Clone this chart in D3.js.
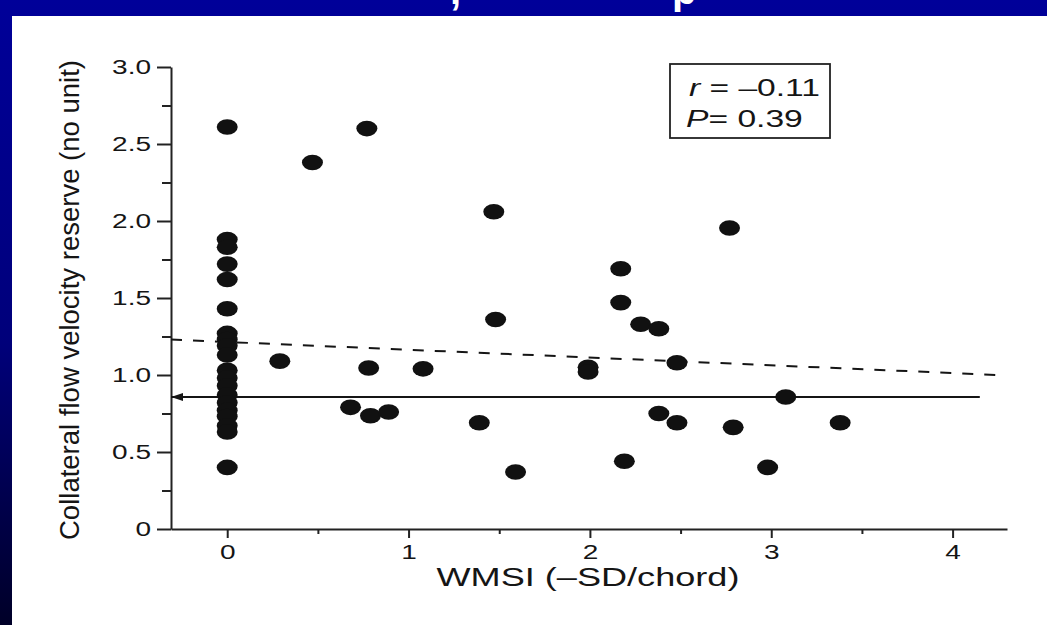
<!doctype html>
<html lang="en">
<head>
<meta charset="utf-8">
<title>CFVR vs WMSI</title>
<script src="https://cdn.jsdelivr.net/npm/d3@7"></script>
<style>
  html, body { margin: 0; padding: 0; overflow: hidden; background: #000099; }
  svg { display: block; }
  text { font-family: "Liberation Sans", Arial, sans-serif; fill: #151515; }
</style>
</head>
<body>
<div id="chart"></div>
<script>
  // axis ticks
  const xMajor = [0, 1, 2, 3, 4];
  const xMinor = [0.5, 1.5, 2.5, 3.5];
  const xLabels = ["0", "1", "2", "3", "4"];
  const yMajor = [0, 0.5, 1, 1.5, 2, 2.5, 3];
  const yMinor = [0.25, 0.75, 1.25, 1.75, 2.25, 2.75];
  const yLabels = ["0", "0.5", "1.0", "1.5", "2.0", "2.5", "3.0"];

  // patients: WMSI (x) and collateral flow velocity reserve (y)
  const wmsi = [
    0, 0, 0, 0, 0, 0, 0, 0, 0, 0, 0, 0, 0, 0, 0, 0, 0, 0, 0, 0,
    0.29, 0.47, 0.77, 0.78, 0.68, 0.79, 0.89, 1.08, 1.39, 1.47,
    1.48, 1.59, 1.99, 1.99, 2.17, 2.17, 2.19, 2.28, 2.38, 2.38,
    2.48, 2.48, 2.77, 2.79, 2.98, 3.08, 3.38
  ];
  const cfvr = [
    2.61, 1.88, 1.83, 1.72, 1.62, 1.43, 1.27, 1.23, 1.19, 1.13,
    1.03, 0.98, 0.93, 0.87, 0.82, 0.77, 0.73, 0.67, 0.63, 0.40,
    1.09, 2.38, 2.60, 1.045, 0.79, 0.735, 0.76, 1.04, 0.69, 2.06,
    1.36, 0.37, 1.05, 1.02, 1.69, 1.47, 0.44, 1.33, 1.30, 0.75,
    1.08, 0.69, 1.955, 0.66, 0.40, 0.857, 0.69
  ];

  // regression (dashed) and mean value (arrow)
  const fitX = [-0.31, 4.25];
  const fitY = [1.23, 1.0];
  const meanX = [4.15, -0.31];
  const meanY = [0.857, 0.857];
  const statLines = ["= \u20130.11", "= 0.39"];

  const W = 1047, H = 625;
  const stretch = 1.4; // glyphs in the scan are wide

  const svg = d3.select("#chart").append("svg")
    .attr("width", W).attr("height", H);

  const defs = svg.append("defs");
  const grad = defs.append("linearGradient").attr("id", "bg")
    .attr("x1", 0).attr("y1", 0).attr("x2", 0).attr("y2", 1);
  grad.append("stop").attr("offset", "0%").attr("stop-color", "#000099");
  grad.append("stop").attr("offset", "55%").attr("stop-color", "#00007a");
  grad.append("stop").attr("offset", "100%").attr("stop-color", "#000028");

  defs.append("marker").attr("id", "arrow")
    .attr("viewBox", "0 0 12 10").attr("refX", 12).attr("refY", 5)
    .attr("markerWidth", 12).attr("markerHeight", 10)
    .attr("markerUnits", "userSpaceOnUse").attr("orient", "auto")
    .append("path").attr("d", "M0,1 L12,5 L0,9 Z").attr("fill", "#151515");

  svg.append("rect").attr("width", W).attr("height", H).attr("fill", "url(#bg)");
  svg.append("rect").attr("x", 12).attr("y", 16).attr("width", W - 12).attr("height", H - 16)
    .attr("fill", "#fff");

  // clipped slide title remnants
  svg.append("text").attr("x", 450).attr("y", 4).text(",")
    .style("font-size", "40px").style("font-weight", "bold").style("fill", "#fff");
  svg.append("text").attr("x", 672).attr("y", 4).text("p")
    .style("font-size", "40px").style("font-weight", "bold").style("fill", "#fff");

  const x = d3.scaleLinear().domain([-0.31, 4.3]).range([171, 1007]);
  const y = d3.scaleLinear().domain([0, 3]).range([529, 67]);

  function widen(sel) {
    sel.each(function () {
      const w = this.getComputedTextLength();
      d3.select(this).attr("textLength", w * stretch).attr("lengthAdjust", "spacingAndGlyphs");
    });
  }

  const gx = svg.append("g").attr("transform", `translate(0,${y(0)})`)
    .call(d3.axisBottom(x).tickValues(xMajor).tickSize(9).tickSizeOuter(0).tickPadding(7)
      .tickFormat((d, i) => xLabels[i]));
  svg.append("g").attr("transform", `translate(0,${y(0)})`)
    .call(d3.axisBottom(x).tickValues(xMinor).tickSize(5).tickSizeOuter(0).tickFormat(""))
    .select(".domain").remove();

  const gy = svg.append("g").attr("transform", `translate(${x(-0.31)},0)`)
    .call(d3.axisLeft(y).tickValues(yMajor).tickSize(14).tickSizeOuter(0).tickPadding(6)
      .tickFormat((d, i) => yLabels[i]));
  svg.append("g").attr("transform", `translate(${x(-0.31)},0)`)
    .call(d3.axisLeft(y).tickValues(yMinor).tickSize(9).tickSizeOuter(0).tickFormat(""))
    .select(".domain").remove();

  svg.selectAll(".domain, .tick line").attr("stroke", "#222").attr("stroke-width", 2);
  [gx, gy].forEach(g => g.selectAll("text")
    .style("font-size", "20px").attr("fill", "#151515").call(widen));

  // axis titles
  svg.append("text").attr("x", 588).attr("y", 586).attr("text-anchor", "middle")
    .style("font-size", "26px").attr("textLength", 303).attr("lengthAdjust", "spacingAndGlyphs")
    .text("WMSI (\u2013SD/chord)");
  svg.append("text").attr("transform", "translate(79,300) rotate(-90)")
    .attr("text-anchor", "middle")
    .style("font-size", "27px").attr("textLength", 480).attr("lengthAdjust", "spacingAndGlyphs")
    .text("Collateral flow velocity reserve (no unit)");

  // regression line
  const line = d3.line().x(d => x(d[0])).y(d => y(d[1]));
  svg.append("path").datum(d3.zip(fitX, fitY)).attr("d", line)
    .attr("fill", "none").attr("stroke", "#151515").attr("stroke-width", 2)
    .attr("stroke-dasharray", "11,11");

  // mean value with arrow to the y axis
  svg.append("path").datum(d3.zip(meanX, meanY)).attr("d", line)
    .attr("fill", "none").attr("stroke", "#151515").attr("stroke-width", 2.2)
    .attr("marker-end", "url(#arrow)");

  // points
  svg.append("g").selectAll("ellipse")
    .data(d3.zip(wmsi, cfvr))
    .join("ellipse")
    .attr("cx", d => x(d[0]))
    .attr("cy", d => y(d[1]))
    .attr("rx", 10.5).attr("ry", 7.8)
    .attr("fill", "#111");

  // statistics box
  svg.append("rect").attr("x", 670).attr("y", 64).attr("width", 160).attr("height", 74)
    .attr("fill", "#fff").attr("stroke", "#222").attr("stroke-width", 1.8);
  const t1 = svg.append("text").attr("x", 820).attr("y", 96).attr("text-anchor", "end")
    .style("font-size", "24px");
  t1.append("tspan").style("font-style", "italic").text("r ");
  t1.append("tspan").text(statLines[0]);
  t1.call(widen);
  const t2 = svg.append("text").attr("x", 686).attr("y", 127)
    .style("font-size", "24px");
  t2.append("tspan").style("font-style", "italic").text("P");
  t2.append("tspan").text(statLines[1]);
  t2.call(widen);
</script>
</body>
</html>
